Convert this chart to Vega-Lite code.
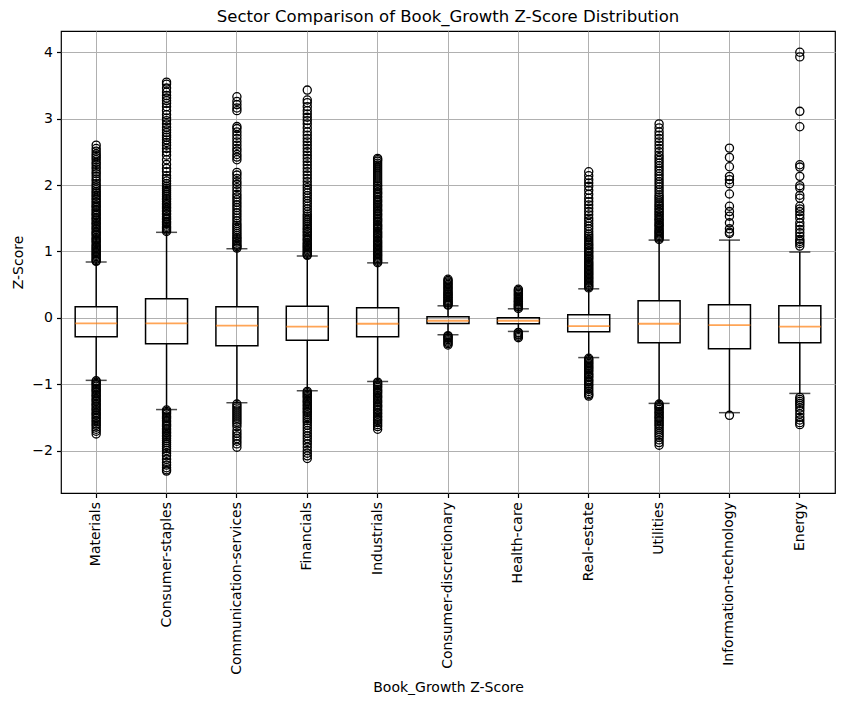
{
"$schema": "https://vega.github.io/schema/vega-lite/v6.json",
"width": 774, "height": 462,
"autosize": {"type": "none"},
"padding": {"left": 61, "top": 31, "right": 9, "bottom": 211},
"background": "white",
"title": {"text": "Sector Comparison of Book_Growth Z-Score Distribution", "font": "DejaVu Sans", "fontSize": 16.5, "fontWeight": "normal", "color": "black", "offset": 6},
"datasets": {
"boxes": [
{"s":"Materials","lo":-0.943,"q1":-0.286,"med":-0.086,"q3":0.165,"hi":0.84},
{"s":"Consumer-staples","lo":-1.383,"q1":-0.39,"med":-0.086,"q3":0.286,"hi":1.287},
{"s":"Communication-services","lo":-1.28,"q1":-0.42,"med":-0.12,"q3":0.165,"hi":1.04},
{"s":"Financials","lo":-1.1,"q1":-0.34,"med":-0.135,"q3":0.175,"hi":0.93},
{"s":"Industrials","lo":-0.96,"q1":-0.286,"med":-0.09,"q3":0.15,"hi":0.827},
{"s":"Consumer-discretionary","lo":-0.256,"q1":-0.086,"med":-0.045,"q3":0.015,"hi":0.18},
{"s":"Health-care","lo":-0.206,"q1":-0.09,"med":-0.045,"q3":0.0,"hi":0.135},
{"s":"Real-estate","lo":-0.6,"q1":-0.21,"med":-0.126,"q3":0.045,"hi":0.436},
{"s":"Utilities","lo":-1.29,"q1":-0.376,"med":-0.09,"q3":0.255,"hi":1.17},
{"s":"Information-technology","lo":-1.43,"q1":-0.466,"med":-0.11,"q3":0.195,"hi":1.17},
{"s":"Energy","lo":-1.14,"q1":-0.376,"med":-0.135,"q3":0.18,"hi":0.99}
],
"out": [
{"s":"Materials","v":0.85},{"s":"Materials","v":0.86},{"s":"Materials","v":0.88},{"s":"Materials","v":0.9},{"s":"Materials","v":0.92},{"s":"Materials","v":0.94},{"s":"Materials","v":0.96},{"s":"Materials","v":0.98},{"s":"Materials","v":1.0},{"s":"Materials","v":1.02},{"s":"Materials","v":1.04},{"s":"Materials","v":1.06},{"s":"Materials","v":1.08},{"s":"Materials","v":1.1},{"s":"Materials","v":1.13},{"s":"Materials","v":1.15},{"s":"Materials","v":1.17},{"s":"Materials","v":1.19},{"s":"Materials","v":1.21},{"s":"Materials","v":1.24},{"s":"Materials","v":1.26},{"s":"Materials","v":1.28},{"s":"Materials","v":1.3},{"s":"Materials","v":1.33},{"s":"Materials","v":1.35},{"s":"Materials","v":1.37},{"s":"Materials","v":1.4},{"s":"Materials","v":1.42},{"s":"Materials","v":1.44},{"s":"Materials","v":1.47},{"s":"Materials","v":1.49},{"s":"Materials","v":1.51},{"s":"Materials","v":1.54},{"s":"Materials","v":1.56},{"s":"Materials","v":1.58},{"s":"Materials","v":1.61},{"s":"Materials","v":1.63},{"s":"Materials","v":1.66},{"s":"Materials","v":1.68},{"s":"Materials","v":1.7},{"s":"Materials","v":1.73},{"s":"Materials","v":1.75},{"s":"Materials","v":1.78},{"s":"Materials","v":1.8},{"s":"Materials","v":1.83},{"s":"Materials","v":1.85},{"s":"Materials","v":1.88},{"s":"Materials","v":1.9},{"s":"Materials","v":1.93},{"s":"Materials","v":1.96},{"s":"Materials","v":1.99},{"s":"Materials","v":2.02},{"s":"Materials","v":2.06},{"s":"Materials","v":2.09},{"s":"Materials","v":2.13},{"s":"Materials","v":2.17},{"s":"Materials","v":2.2},{"s":"Materials","v":2.24},{"s":"Materials","v":2.27},{"s":"Materials","v":2.31},{"s":"Materials","v":2.34},{"s":"Materials","v":2.38},{"s":"Materials","v":2.41},{"s":"Materials","v":2.44},{"s":"Materials","v":2.47},{"s":"Materials","v":2.51},{"s":"Materials","v":2.55},{"s":"Materials","v":2.6},
{"s":"Materials","v":-0.95},{"s":"Materials","v":-0.97},{"s":"Materials","v":-0.99},{"s":"Materials","v":-1.01},{"s":"Materials","v":-1.03},{"s":"Materials","v":-1.06},{"s":"Materials","v":-1.08},{"s":"Materials","v":-1.1},{"s":"Materials","v":-1.12},{"s":"Materials","v":-1.15},{"s":"Materials","v":-1.17},{"s":"Materials","v":-1.19},{"s":"Materials","v":-1.22},{"s":"Materials","v":-1.24},{"s":"Materials","v":-1.26},{"s":"Materials","v":-1.29},{"s":"Materials","v":-1.31},{"s":"Materials","v":-1.33},{"s":"Materials","v":-1.36},{"s":"Materials","v":-1.38},{"s":"Materials","v":-1.4},{"s":"Materials","v":-1.43},{"s":"Materials","v":-1.45},{"s":"Materials","v":-1.47},{"s":"Materials","v":-1.5},{"s":"Materials","v":-1.52},{"s":"Materials","v":-1.55},{"s":"Materials","v":-1.57},{"s":"Materials","v":-1.6},{"s":"Materials","v":-1.62},{"s":"Materials","v":-1.65},{"s":"Materials","v":-1.68},{"s":"Materials","v":-1.71},{"s":"Materials","v":-1.75},
{"s":"Consumer-staples","v":1.3},{"s":"Consumer-staples","v":1.32},{"s":"Consumer-staples","v":1.34},{"s":"Consumer-staples","v":1.36},{"s":"Consumer-staples","v":1.38},{"s":"Consumer-staples","v":1.41},{"s":"Consumer-staples","v":1.43},{"s":"Consumer-staples","v":1.45},{"s":"Consumer-staples","v":1.48},{"s":"Consumer-staples","v":1.5},{"s":"Consumer-staples","v":1.52},{"s":"Consumer-staples","v":1.55},{"s":"Consumer-staples","v":1.57},{"s":"Consumer-staples","v":1.6},{"s":"Consumer-staples","v":1.62},{"s":"Consumer-staples","v":1.65},{"s":"Consumer-staples","v":1.67},{"s":"Consumer-staples","v":1.7},{"s":"Consumer-staples","v":1.72},{"s":"Consumer-staples","v":1.75},{"s":"Consumer-staples","v":1.78},{"s":"Consumer-staples","v":1.8},{"s":"Consumer-staples","v":1.83},{"s":"Consumer-staples","v":1.86},{"s":"Consumer-staples","v":1.89},{"s":"Consumer-staples","v":1.92},{"s":"Consumer-staples","v":1.95},{"s":"Consumer-staples","v":1.98},{"s":"Consumer-staples","v":2.02},{"s":"Consumer-staples","v":2.06},{"s":"Consumer-staples","v":2.1},{"s":"Consumer-staples","v":2.14},{"s":"Consumer-staples","v":2.2},{"s":"Consumer-staples","v":2.25},{"s":"Consumer-staples","v":2.31},{"s":"Consumer-staples","v":2.38},{"s":"Consumer-staples","v":2.45},{"s":"Consumer-staples","v":2.5},{"s":"Consumer-staples","v":2.55},{"s":"Consumer-staples","v":2.6},{"s":"Consumer-staples","v":2.64},{"s":"Consumer-staples","v":2.68},{"s":"Consumer-staples","v":2.72},{"s":"Consumer-staples","v":2.75},{"s":"Consumer-staples","v":2.79},{"s":"Consumer-staples","v":2.83},{"s":"Consumer-staples","v":2.87},{"s":"Consumer-staples","v":2.92},{"s":"Consumer-staples","v":2.97},{"s":"Consumer-staples","v":3.01},{"s":"Consumer-staples","v":3.06},{"s":"Consumer-staples","v":3.12},{"s":"Consumer-staples","v":3.18},{"s":"Consumer-staples","v":3.23},{"s":"Consumer-staples","v":3.27},{"s":"Consumer-staples","v":3.31},{"s":"Consumer-staples","v":3.35},{"s":"Consumer-staples","v":3.4},{"s":"Consumer-staples","v":3.46},{"s":"Consumer-staples","v":3.52},{"s":"Consumer-staples","v":3.55},
{"s":"Consumer-staples","v":-1.39},{"s":"Consumer-staples","v":-1.41},{"s":"Consumer-staples","v":-1.43},{"s":"Consumer-staples","v":-1.45},{"s":"Consumer-staples","v":-1.48},{"s":"Consumer-staples","v":-1.5},{"s":"Consumer-staples","v":-1.52},{"s":"Consumer-staples","v":-1.55},{"s":"Consumer-staples","v":-1.57},{"s":"Consumer-staples","v":-1.6},{"s":"Consumer-staples","v":-1.62},{"s":"Consumer-staples","v":-1.64},{"s":"Consumer-staples","v":-1.67},{"s":"Consumer-staples","v":-1.69},{"s":"Consumer-staples","v":-1.72},{"s":"Consumer-staples","v":-1.74},{"s":"Consumer-staples","v":-1.77},{"s":"Consumer-staples","v":-1.79},{"s":"Consumer-staples","v":-1.82},{"s":"Consumer-staples","v":-1.85},{"s":"Consumer-staples","v":-1.88},{"s":"Consumer-staples","v":-1.91},{"s":"Consumer-staples","v":-1.94},{"s":"Consumer-staples","v":-1.97},{"s":"Consumer-staples","v":-2.0},{"s":"Consumer-staples","v":-2.04},{"s":"Consumer-staples","v":-2.08},{"s":"Consumer-staples","v":-2.13},{"s":"Consumer-staples","v":-2.18},{"s":"Consumer-staples","v":-2.22},{"s":"Consumer-staples","v":-2.26},{"s":"Consumer-staples","v":-2.29},{"s":"Consumer-staples","v":-2.31},
{"s":"Communication-services","v":1.05},{"s":"Communication-services","v":1.07},{"s":"Communication-services","v":1.09},{"s":"Communication-services","v":1.11},{"s":"Communication-services","v":1.14},{"s":"Communication-services","v":1.16},{"s":"Communication-services","v":1.19},{"s":"Communication-services","v":1.21},{"s":"Communication-services","v":1.24},{"s":"Communication-services","v":1.27},{"s":"Communication-services","v":1.3},{"s":"Communication-services","v":1.33},{"s":"Communication-services","v":1.36},{"s":"Communication-services","v":1.39},{"s":"Communication-services","v":1.42},{"s":"Communication-services","v":1.46},{"s":"Communication-services","v":1.5},{"s":"Communication-services","v":1.54},{"s":"Communication-services","v":1.58},{"s":"Communication-services","v":1.62},{"s":"Communication-services","v":1.66},{"s":"Communication-services","v":1.7},{"s":"Communication-services","v":1.74},{"s":"Communication-services","v":1.78},{"s":"Communication-services","v":1.82},{"s":"Communication-services","v":1.86},{"s":"Communication-services","v":1.91},{"s":"Communication-services","v":1.96},{"s":"Communication-services","v":2.01},{"s":"Communication-services","v":2.05},{"s":"Communication-services","v":2.1},{"s":"Communication-services","v":2.15},{"s":"Communication-services","v":2.19},{"s":"Communication-services","v":2.38},{"s":"Communication-services","v":2.42},{"s":"Communication-services","v":2.46},{"s":"Communication-services","v":2.51},{"s":"Communication-services","v":2.55},{"s":"Communication-services","v":2.6},{"s":"Communication-services","v":2.65},{"s":"Communication-services","v":2.7},{"s":"Communication-services","v":2.75},{"s":"Communication-services","v":2.8},{"s":"Communication-services","v":2.85},{"s":"Communication-services","v":2.88},{"s":"Communication-services","v":3.12},{"s":"Communication-services","v":3.16},{"s":"Communication-services","v":3.21},{"s":"Communication-services","v":3.26},{"s":"Communication-services","v":3.33},
{"s":"Communication-services","v":-1.3},{"s":"Communication-services","v":-1.33},{"s":"Communication-services","v":-1.36},{"s":"Communication-services","v":-1.39},{"s":"Communication-services","v":-1.42},{"s":"Communication-services","v":-1.45},{"s":"Communication-services","v":-1.48},{"s":"Communication-services","v":-1.51},{"s":"Communication-services","v":-1.54},{"s":"Communication-services","v":-1.57},{"s":"Communication-services","v":-1.6},{"s":"Communication-services","v":-1.64},{"s":"Communication-services","v":-1.7},{"s":"Communication-services","v":-1.74},{"s":"Communication-services","v":-1.78},{"s":"Communication-services","v":-1.82},{"s":"Communication-services","v":-1.86},{"s":"Communication-services","v":-1.9},{"s":"Communication-services","v":-1.95},
{"s":"Financials","v":0.94},{"s":"Financials","v":0.95},{"s":"Financials","v":0.97},{"s":"Financials","v":0.99},{"s":"Financials","v":1.01},{"s":"Financials","v":1.03},{"s":"Financials","v":1.05},{"s":"Financials","v":1.07},{"s":"Financials","v":1.09},{"s":"Financials","v":1.11},{"s":"Financials","v":1.13},{"s":"Financials","v":1.16},{"s":"Financials","v":1.18},{"s":"Financials","v":1.2},{"s":"Financials","v":1.23},{"s":"Financials","v":1.25},{"s":"Financials","v":1.28},{"s":"Financials","v":1.3},{"s":"Financials","v":1.33},{"s":"Financials","v":1.35},{"s":"Financials","v":1.38},{"s":"Financials","v":1.41},{"s":"Financials","v":1.44},{"s":"Financials","v":1.47},{"s":"Financials","v":1.5},{"s":"Financials","v":1.53},{"s":"Financials","v":1.56},{"s":"Financials","v":1.6},{"s":"Financials","v":1.64},{"s":"Financials","v":1.68},{"s":"Financials","v":1.72},{"s":"Financials","v":1.76},{"s":"Financials","v":1.8},{"s":"Financials","v":1.84},{"s":"Financials","v":1.88},{"s":"Financials","v":1.92},{"s":"Financials","v":1.96},{"s":"Financials","v":2.0},{"s":"Financials","v":2.05},{"s":"Financials","v":2.1},{"s":"Financials","v":2.15},{"s":"Financials","v":2.2},{"s":"Financials","v":2.25},{"s":"Financials","v":2.3},{"s":"Financials","v":2.35},{"s":"Financials","v":2.4},{"s":"Financials","v":2.45},{"s":"Financials","v":2.5},{"s":"Financials","v":2.55},{"s":"Financials","v":2.6},{"s":"Financials","v":2.65},{"s":"Financials","v":2.7},{"s":"Financials","v":2.75},{"s":"Financials","v":2.8},{"s":"Financials","v":2.86},{"s":"Financials","v":2.92},{"s":"Financials","v":2.97},{"s":"Financials","v":3.02},{"s":"Financials","v":3.07},{"s":"Financials","v":3.12},{"s":"Financials","v":3.18},{"s":"Financials","v":3.24},{"s":"Financials","v":3.28},{"s":"Financials","v":3.43},
{"s":"Financials","v":-1.11},{"s":"Financials","v":-1.13},{"s":"Financials","v":-1.15},{"s":"Financials","v":-1.17},{"s":"Financials","v":-1.19},{"s":"Financials","v":-1.21},{"s":"Financials","v":-1.24},{"s":"Financials","v":-1.26},{"s":"Financials","v":-1.28},{"s":"Financials","v":-1.31},{"s":"Financials","v":-1.33},{"s":"Financials","v":-1.36},{"s":"Financials","v":-1.38},{"s":"Financials","v":-1.41},{"s":"Financials","v":-1.43},{"s":"Financials","v":-1.46},{"s":"Financials","v":-1.49},{"s":"Financials","v":-1.52},{"s":"Financials","v":-1.55},{"s":"Financials","v":-1.58},{"s":"Financials","v":-1.62},{"s":"Financials","v":-1.66},{"s":"Financials","v":-1.7},{"s":"Financials","v":-1.74},{"s":"Financials","v":-1.78},{"s":"Financials","v":-1.82},{"s":"Financials","v":-1.86},{"s":"Financials","v":-1.9},{"s":"Financials","v":-1.95},{"s":"Financials","v":-2.0},{"s":"Financials","v":-2.04},{"s":"Financials","v":-2.08},{"s":"Financials","v":-2.12},
{"s":"Industrials","v":0.83},{"s":"Industrials","v":0.85},{"s":"Industrials","v":0.87},{"s":"Industrials","v":0.89},{"s":"Industrials","v":0.91},{"s":"Industrials","v":0.93},{"s":"Industrials","v":0.95},{"s":"Industrials","v":0.97},{"s":"Industrials","v":0.99},{"s":"Industrials","v":1.01},{"s":"Industrials","v":1.03},{"s":"Industrials","v":1.05},{"s":"Industrials","v":1.07},{"s":"Industrials","v":1.09},{"s":"Industrials","v":1.11},{"s":"Industrials","v":1.13},{"s":"Industrials","v":1.15},{"s":"Industrials","v":1.17},{"s":"Industrials","v":1.2},{"s":"Industrials","v":1.22},{"s":"Industrials","v":1.24},{"s":"Industrials","v":1.26},{"s":"Industrials","v":1.28},{"s":"Industrials","v":1.3},{"s":"Industrials","v":1.33},{"s":"Industrials","v":1.35},{"s":"Industrials","v":1.37},{"s":"Industrials","v":1.39},{"s":"Industrials","v":1.41},{"s":"Industrials","v":1.44},{"s":"Industrials","v":1.46},{"s":"Industrials","v":1.48},{"s":"Industrials","v":1.5},{"s":"Industrials","v":1.53},{"s":"Industrials","v":1.55},{"s":"Industrials","v":1.57},{"s":"Industrials","v":1.6},{"s":"Industrials","v":1.62},{"s":"Industrials","v":1.64},{"s":"Industrials","v":1.67},{"s":"Industrials","v":1.69},{"s":"Industrials","v":1.71},{"s":"Industrials","v":1.74},{"s":"Industrials","v":1.76},{"s":"Industrials","v":1.78},{"s":"Industrials","v":1.81},{"s":"Industrials","v":1.83},{"s":"Industrials","v":1.86},{"s":"Industrials","v":1.88},{"s":"Industrials","v":1.9},{"s":"Industrials","v":1.93},{"s":"Industrials","v":1.95},{"s":"Industrials","v":1.98},{"s":"Industrials","v":2.0},{"s":"Industrials","v":2.03},{"s":"Industrials","v":2.06},{"s":"Industrials","v":2.09},{"s":"Industrials","v":2.12},{"s":"Industrials","v":2.15},{"s":"Industrials","v":2.18},{"s":"Industrials","v":2.21},{"s":"Industrials","v":2.24},{"s":"Industrials","v":2.27},{"s":"Industrials","v":2.3},{"s":"Industrials","v":2.33},{"s":"Industrials","v":2.36},{"s":"Industrials","v":2.38},{"s":"Industrials","v":2.4},
{"s":"Industrials","v":-0.97},{"s":"Industrials","v":-0.99},{"s":"Industrials","v":-1.01},{"s":"Industrials","v":-1.03},{"s":"Industrials","v":-1.05},{"s":"Industrials","v":-1.08},{"s":"Industrials","v":-1.1},{"s":"Industrials","v":-1.12},{"s":"Industrials","v":-1.14},{"s":"Industrials","v":-1.17},{"s":"Industrials","v":-1.19},{"s":"Industrials","v":-1.21},{"s":"Industrials","v":-1.24},{"s":"Industrials","v":-1.26},{"s":"Industrials","v":-1.28},{"s":"Industrials","v":-1.31},{"s":"Industrials","v":-1.33},{"s":"Industrials","v":-1.35},{"s":"Industrials","v":-1.38},{"s":"Industrials","v":-1.4},{"s":"Industrials","v":-1.43},{"s":"Industrials","v":-1.45},{"s":"Industrials","v":-1.48},{"s":"Industrials","v":-1.5},{"s":"Industrials","v":-1.53},{"s":"Industrials","v":-1.55},{"s":"Industrials","v":-1.58},{"s":"Industrials","v":-1.61},{"s":"Industrials","v":-1.64},{"s":"Industrials","v":-1.68},
{"s":"Consumer-discretionary","v":0.19},{"s":"Consumer-discretionary","v":0.2},{"s":"Consumer-discretionary","v":0.22},{"s":"Consumer-discretionary","v":0.23},{"s":"Consumer-discretionary","v":0.25},{"s":"Consumer-discretionary","v":0.26},{"s":"Consumer-discretionary","v":0.28},{"s":"Consumer-discretionary","v":0.3},{"s":"Consumer-discretionary","v":0.31},{"s":"Consumer-discretionary","v":0.33},{"s":"Consumer-discretionary","v":0.35},{"s":"Consumer-discretionary","v":0.36},{"s":"Consumer-discretionary","v":0.38},{"s":"Consumer-discretionary","v":0.4},{"s":"Consumer-discretionary","v":0.42},{"s":"Consumer-discretionary","v":0.44},{"s":"Consumer-discretionary","v":0.46},{"s":"Consumer-discretionary","v":0.48},{"s":"Consumer-discretionary","v":0.5},{"s":"Consumer-discretionary","v":0.52},{"s":"Consumer-discretionary","v":0.54},{"s":"Consumer-discretionary","v":0.56},{"s":"Consumer-discretionary","v":0.58},
{"s":"Consumer-discretionary","v":-0.27},{"s":"Consumer-discretionary","v":-0.28},{"s":"Consumer-discretionary","v":-0.3},{"s":"Consumer-discretionary","v":-0.31},{"s":"Consumer-discretionary","v":-0.33},{"s":"Consumer-discretionary","v":-0.35},{"s":"Consumer-discretionary","v":-0.37},{"s":"Consumer-discretionary","v":-0.39},{"s":"Consumer-discretionary","v":-0.41},
{"s":"Health-care","v":0.14},{"s":"Health-care","v":0.16},{"s":"Health-care","v":0.17},{"s":"Health-care","v":0.19},{"s":"Health-care","v":0.2},{"s":"Health-care","v":0.22},{"s":"Health-care","v":0.24},{"s":"Health-care","v":0.25},{"s":"Health-care","v":0.27},{"s":"Health-care","v":0.29},{"s":"Health-care","v":0.31},{"s":"Health-care","v":0.33},{"s":"Health-care","v":0.35},{"s":"Health-care","v":0.37},{"s":"Health-care","v":0.39},{"s":"Health-care","v":0.41},{"s":"Health-care","v":0.43},
{"s":"Health-care","v":-0.22},{"s":"Health-care","v":-0.23},{"s":"Health-care","v":-0.25},{"s":"Health-care","v":-0.26},{"s":"Health-care","v":-0.28},{"s":"Health-care","v":-0.3},
{"s":"Real-estate","v":0.45},{"s":"Real-estate","v":0.47},{"s":"Real-estate","v":0.49},{"s":"Real-estate","v":0.51},{"s":"Real-estate","v":0.53},{"s":"Real-estate","v":0.55},{"s":"Real-estate","v":0.57},{"s":"Real-estate","v":0.59},{"s":"Real-estate","v":0.61},{"s":"Real-estate","v":0.63},{"s":"Real-estate","v":0.65},{"s":"Real-estate","v":0.67},{"s":"Real-estate","v":0.69},{"s":"Real-estate","v":0.71},{"s":"Real-estate","v":0.73},{"s":"Real-estate","v":0.75},{"s":"Real-estate","v":0.77},{"s":"Real-estate","v":0.79},{"s":"Real-estate","v":0.81},{"s":"Real-estate","v":0.83},{"s":"Real-estate","v":0.85},{"s":"Real-estate","v":0.88},{"s":"Real-estate","v":0.9},{"s":"Real-estate","v":0.92},{"s":"Real-estate","v":0.94},{"s":"Real-estate","v":0.97},{"s":"Real-estate","v":0.99},{"s":"Real-estate","v":1.01},{"s":"Real-estate","v":1.04},{"s":"Real-estate","v":1.06},{"s":"Real-estate","v":1.09},{"s":"Real-estate","v":1.11},{"s":"Real-estate","v":1.14},{"s":"Real-estate","v":1.17},{"s":"Real-estate","v":1.2},{"s":"Real-estate","v":1.23},{"s":"Real-estate","v":1.26},{"s":"Real-estate","v":1.3},{"s":"Real-estate","v":1.34},{"s":"Real-estate","v":1.38},{"s":"Real-estate","v":1.42},{"s":"Real-estate","v":1.46},{"s":"Real-estate","v":1.5},{"s":"Real-estate","v":1.55},{"s":"Real-estate","v":1.6},{"s":"Real-estate","v":1.65},{"s":"Real-estate","v":1.7},{"s":"Real-estate","v":1.75},{"s":"Real-estate","v":1.8},{"s":"Real-estate","v":1.86},{"s":"Real-estate","v":1.92},{"s":"Real-estate","v":1.98},{"s":"Real-estate","v":2.03},{"s":"Real-estate","v":2.08},{"s":"Real-estate","v":2.14},{"s":"Real-estate","v":2.2},
{"s":"Real-estate","v":-0.61},{"s":"Real-estate","v":-0.63},{"s":"Real-estate","v":-0.65},{"s":"Real-estate","v":-0.67},{"s":"Real-estate","v":-0.69},{"s":"Real-estate","v":-0.71},{"s":"Real-estate","v":-0.73},{"s":"Real-estate","v":-0.75},{"s":"Real-estate","v":-0.77},{"s":"Real-estate","v":-0.79},{"s":"Real-estate","v":-0.81},{"s":"Real-estate","v":-0.84},{"s":"Real-estate","v":-0.86},{"s":"Real-estate","v":-0.88},{"s":"Real-estate","v":-0.9},{"s":"Real-estate","v":-0.93},{"s":"Real-estate","v":-0.95},{"s":"Real-estate","v":-0.97},{"s":"Real-estate","v":-1.0},{"s":"Real-estate","v":-1.02},{"s":"Real-estate","v":-1.05},{"s":"Real-estate","v":-1.08},{"s":"Real-estate","v":-1.11},{"s":"Real-estate","v":-1.14},{"s":"Real-estate","v":-1.16},{"s":"Real-estate","v":-1.18},
{"s":"Utilities","v":1.18},{"s":"Utilities","v":1.2},{"s":"Utilities","v":1.22},{"s":"Utilities","v":1.24},{"s":"Utilities","v":1.26},{"s":"Utilities","v":1.28},{"s":"Utilities","v":1.3},{"s":"Utilities","v":1.32},{"s":"Utilities","v":1.34},{"s":"Utilities","v":1.37},{"s":"Utilities","v":1.39},{"s":"Utilities","v":1.41},{"s":"Utilities","v":1.43},{"s":"Utilities","v":1.46},{"s":"Utilities","v":1.48},{"s":"Utilities","v":1.5},{"s":"Utilities","v":1.53},{"s":"Utilities","v":1.55},{"s":"Utilities","v":1.58},{"s":"Utilities","v":1.6},{"s":"Utilities","v":1.63},{"s":"Utilities","v":1.65},{"s":"Utilities","v":1.68},{"s":"Utilities","v":1.7},{"s":"Utilities","v":1.73},{"s":"Utilities","v":1.76},{"s":"Utilities","v":1.79},{"s":"Utilities","v":1.82},{"s":"Utilities","v":1.85},{"s":"Utilities","v":1.89},{"s":"Utilities","v":1.93},{"s":"Utilities","v":1.97},{"s":"Utilities","v":2.01},{"s":"Utilities","v":2.05},{"s":"Utilities","v":2.09},{"s":"Utilities","v":2.13},{"s":"Utilities","v":2.17},{"s":"Utilities","v":2.21},{"s":"Utilities","v":2.25},{"s":"Utilities","v":2.29},{"s":"Utilities","v":2.33},{"s":"Utilities","v":2.37},{"s":"Utilities","v":2.41},{"s":"Utilities","v":2.45},{"s":"Utilities","v":2.5},{"s":"Utilities","v":2.55},{"s":"Utilities","v":2.6},{"s":"Utilities","v":2.65},{"s":"Utilities","v":2.7},{"s":"Utilities","v":2.75},{"s":"Utilities","v":2.8},{"s":"Utilities","v":2.86},{"s":"Utilities","v":2.92},
{"s":"Utilities","v":-1.3},{"s":"Utilities","v":-1.32},{"s":"Utilities","v":-1.34},{"s":"Utilities","v":-1.36},{"s":"Utilities","v":-1.38},{"s":"Utilities","v":-1.41},{"s":"Utilities","v":-1.43},{"s":"Utilities","v":-1.45},{"s":"Utilities","v":-1.48},{"s":"Utilities","v":-1.5},{"s":"Utilities","v":-1.52},{"s":"Utilities","v":-1.55},{"s":"Utilities","v":-1.57},{"s":"Utilities","v":-1.6},{"s":"Utilities","v":-1.62},{"s":"Utilities","v":-1.65},{"s":"Utilities","v":-1.68},{"s":"Utilities","v":-1.71},{"s":"Utilities","v":-1.74},{"s":"Utilities","v":-1.77},{"s":"Utilities","v":-1.8},{"s":"Utilities","v":-1.84},{"s":"Utilities","v":-1.88},{"s":"Utilities","v":-1.92},
{"s":"Information-technology","v":1.27},{"s":"Information-technology","v":1.29},{"s":"Information-technology","v":1.34},{"s":"Information-technology","v":1.43},{"s":"Information-technology","v":1.53},{"s":"Information-technology","v":1.6},{"s":"Information-technology","v":1.68},{"s":"Information-technology","v":1.865},{"s":"Information-technology","v":2.02},{"s":"Information-technology","v":2.08},{"s":"Information-technology","v":2.13},{"s":"Information-technology","v":2.275},{"s":"Information-technology","v":2.415},{"s":"Information-technology","v":2.556},
{"s":"Information-technology","v":-1.47},
{"s":"Energy","v":1.08},{"s":"Energy","v":1.12},{"s":"Energy","v":1.15},{"s":"Energy","v":1.18},{"s":"Energy","v":1.23},{"s":"Energy","v":1.28},{"s":"Energy","v":1.33},{"s":"Energy","v":1.38},{"s":"Energy","v":1.43},{"s":"Energy","v":1.5},{"s":"Energy","v":1.55},{"s":"Energy","v":1.6},{"s":"Energy","v":1.64},{"s":"Energy","v":1.68},{"s":"Energy","v":1.8},{"s":"Energy","v":1.845},{"s":"Energy","v":1.955},{"s":"Energy","v":1.99},{"s":"Energy","v":2.13},{"s":"Energy","v":2.27},{"s":"Energy","v":2.305},{"s":"Energy","v":2.877},{"s":"Energy","v":3.11},{"s":"Energy","v":3.93},{"s":"Energy","v":4.0},
{"s":"Energy","v":-1.2},{"s":"Energy","v":-1.23},{"s":"Energy","v":-1.26},{"s":"Energy","v":-1.29},{"s":"Energy","v":-1.32},{"s":"Energy","v":-1.36},{"s":"Energy","v":-1.4},{"s":"Energy","v":-1.45},{"s":"Energy","v":-1.5},{"s":"Energy","v":-1.54},{"s":"Energy","v":-1.58},{"s":"Energy","v":-1.61}
]
},
"encoding": {
"x": {"field": "s", "type": "nominal", "title": "Book_Growth Z-Score",
"scale": {"domain": ["Materials","Consumer-staples","Communication-services","Financials","Industrials","Consumer-discretionary","Health-care","Real-estate","Utilities","Information-technology","Energy"], "paddingInner": 0, "paddingOuter": 0},
"axis": {"labelAngle": -90, "grid": true, "bandPosition": 0.5}}
},
"layer": [
{"data": {"name": "boxes"}, "mark": {"type": "rule", "color": "black", "strokeWidth": 1.5},
"encoding": {"y": {"field": "lo", "type": "quantitative", "title": "Z-Score",
"scale": {"domain": [-2.64, 4.32], "nice": false, "zero": false},
"axis": {"values": [-2,-1,0,1,2,3,4], "format": "d", "grid": true}},
"y2": {"field": "q1"}}},
{"data": {"name": "boxes"}, "mark": {"type": "rule", "color": "black", "strokeWidth": 1.5},
"encoding": {"y": {"field": "q3", "type": "quantitative"}, "y2": {"field": "hi"}}},
{"data": {"name": "boxes"}, "mark": {"type": "bar", "size": 42, "fill": "transparent", "stroke": "black", "strokeWidth": 1.5},
"encoding": {"y": {"field": "q1", "type": "quantitative"}, "y2": {"field": "q3"}}},
{"data": {"name": "boxes"}, "mark": {"type": "tick", "size": 42, "thickness": 1.8, "color": "#ff7f0e", "orient": "horizontal"},
"encoding": {"y": {"field": "med", "type": "quantitative"}}},
{"data": {"name": "boxes"}, "mark": {"type": "tick", "size": 21, "thickness": 1.5, "color": "black", "orient": "horizontal"},
"encoding": {"y": {"field": "lo", "type": "quantitative"}}},
{"data": {"name": "boxes"}, "mark": {"type": "tick", "size": 21, "thickness": 1.5, "color": "black", "orient": "horizontal"},
"encoding": {"y": {"field": "hi", "type": "quantitative"}}},
{"data": {"name": "out"}, "mark": {"type": "point", "shape": "circle", "size": 66, "filled": false, "color": "black", "strokeWidth": 1.3, "opacity": 1},
"encoding": {"y": {"field": "v", "type": "quantitative"}}}
],
"config": {
"font": "DejaVu Sans",
"view": {"stroke": "black", "strokeWidth": 1.2},
"axis": {"domain": false, "gridColor": "#b0b0b0", "gridWidth": 1, "gridOpacity": 1, "tickColor": "black", "tickSize": 4.5, "tickWidth": 1.2, "labelColor": "black", "labelFont": "DejaVu Sans", "labelFontSize": 14, "labelPadding": 4, "titleFont": "DejaVu Sans", "titleFontSize": 14, "titleFontWeight": "normal", "titleColor": "black", "titlePadding": 6}
}
}
